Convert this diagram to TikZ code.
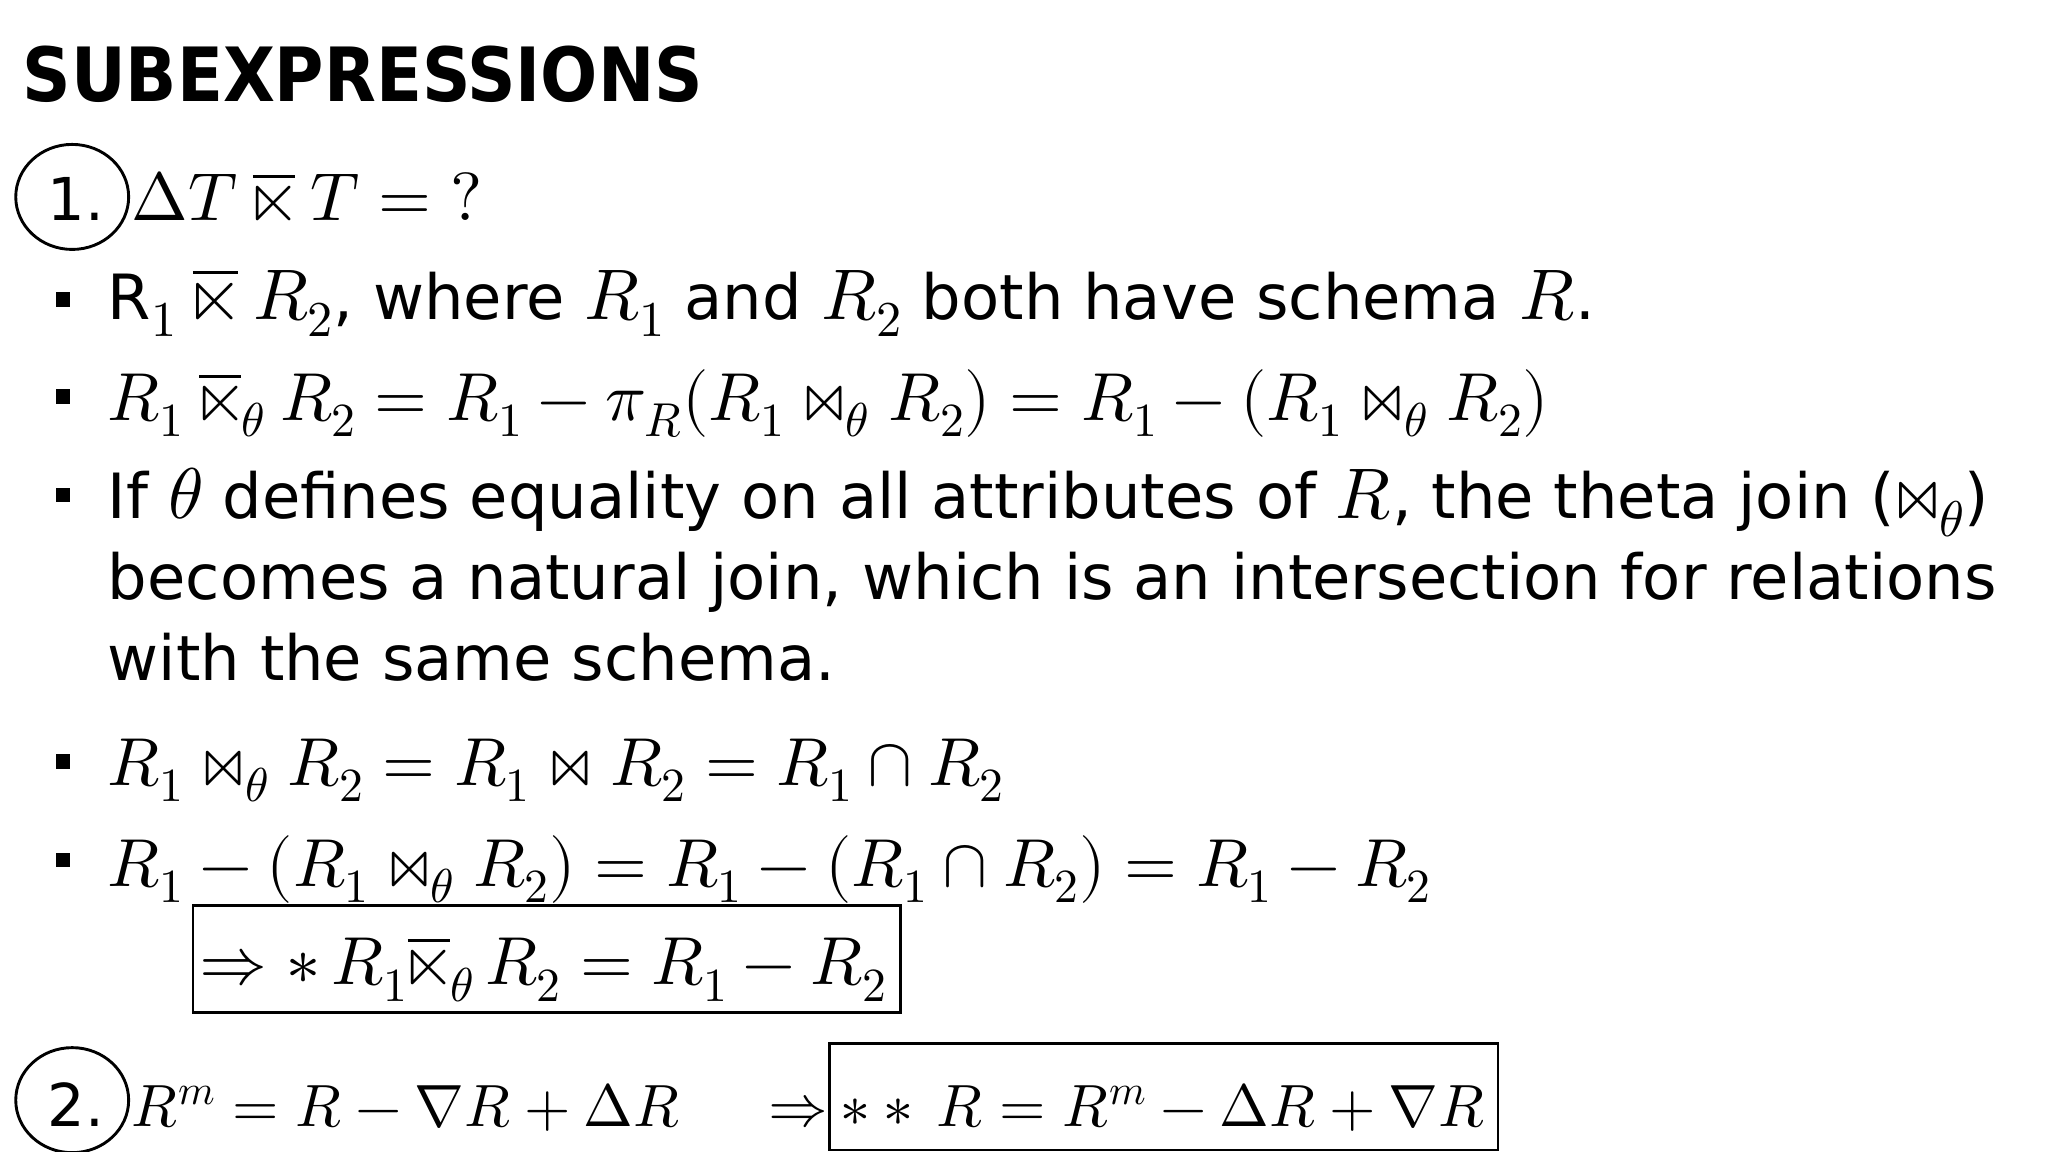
\documentclass[tikz,border=0pt]{standalone}
\usepackage{amsmath}
\usepackage{fontspec}
\usepackage{unicode-math}
\setmainfont{DejaVu Sans}
\newfontfamily\ttlfont{DejaVu Sans Condensed}
\setmathfont{Latin Modern Math}[Scale=1.15]
\newcommand{\aj}{\mathbin{\overline{\ltimes}}}
\tikzset{
  txt/.style={anchor=base west,inner sep=0pt,font=\fontsize{45}{56}\selectfont},
  ptxt/.style={anchor=base west,inner sep=0pt,font=\fontsize{47.5}{56}\selectfont},
  stxt/.style={anchor=base west,inner sep=0pt,font=\fontsize{39.5}{48}\selectfont},
  ttl/.style={anchor=base west,inner sep=0pt,font=\fontsize{57}{70}\selectfont\ttlfont\bfseries},
  bul/.style={fill=black,minimum size=11pt,inner sep=0pt},
  circ/.style={draw,line width=2.2pt,ellipse,minimum width=86pt,minimum height=80pt},
  bx/.style={draw,line width=2.2pt}
}
\usetikzlibrary{shapes.geometric}
\begin{document}
\begin{tikzpicture}[x=1pt,y=-1pt]
\useasboundingbox (0,0) rectangle (1560,877.5);
\node[ttl] (title) at (17,77) {SUBEXPRESSIONS};
\node[circ] (c1) at (55,150) {};
\node[txt] (n1) at (36,168) {1.};
\node[txt] (q1) at (100,168) {$\Delta T\aj T=?$};
\node[bul] (b1) at (48,228) {};
\node[ptxt] (l1) at (82,243) {$\mathrm{R}_1\aj R_2$, where $R_1$ and $R_2$ both have schema $R$.};
\node[bul] (b2) at (48,302) {};
\node[txt] (l2) at (82,320) {$R_1\aj_\theta R_2=R_1-\pi_R(R_1\bowtie_\theta R_2)=R_1-(R_1\bowtie_\theta R_2)$};
\node[bul] (b3) at (48,377) {};
\node[ptxt] (l3) at (82,395) {If $\theta$ defines equality on all attributes of $R$, the theta join ($\bowtie_\theta$)};
\node[ptxt] (l4) at (82,457) {becomes a natural join, which is an intersection for relations};
\node[ptxt] (l5) at (82,518) {with the same schema.};
\node[bul] (b4) at (48,580) {};
\node[txt] (l6) at (82,598) {$R_1\bowtie_\theta R_2=R_1\bowtie R_2=R_1\cap R_2$};
\node[bul] (b5) at (48,655) {};
\node[txt] (l7) at (82,675) {$R_1-(R_1\bowtie_\theta R_2)=R_1-(R_1\cap R_2)=R_1-R_2$};
\node[txt] (l8) at (152,750) {$\Rightarrow *\, R_1{\aj_\theta}\,R_2=R_1-R_2$};
\draw[bx] (147,690) rectangle (686,771);
\node[circ] (c2) at (55,838) {};
\node[txt] (n2) at (36,858) {2.};
\node[stxt] (q2) at (100,858) {$R^m=R-\nabla R+\Delta R$};
\node[stxt] (ar) at (585,858) {$\Rightarrow$};
\node[stxt] (q3) at (640,858) {$**\,R=R^m-\Delta R+\nabla R$};
\draw[bx] (632,795) rectangle (1141,876);
\end{tikzpicture}
\end{document}
